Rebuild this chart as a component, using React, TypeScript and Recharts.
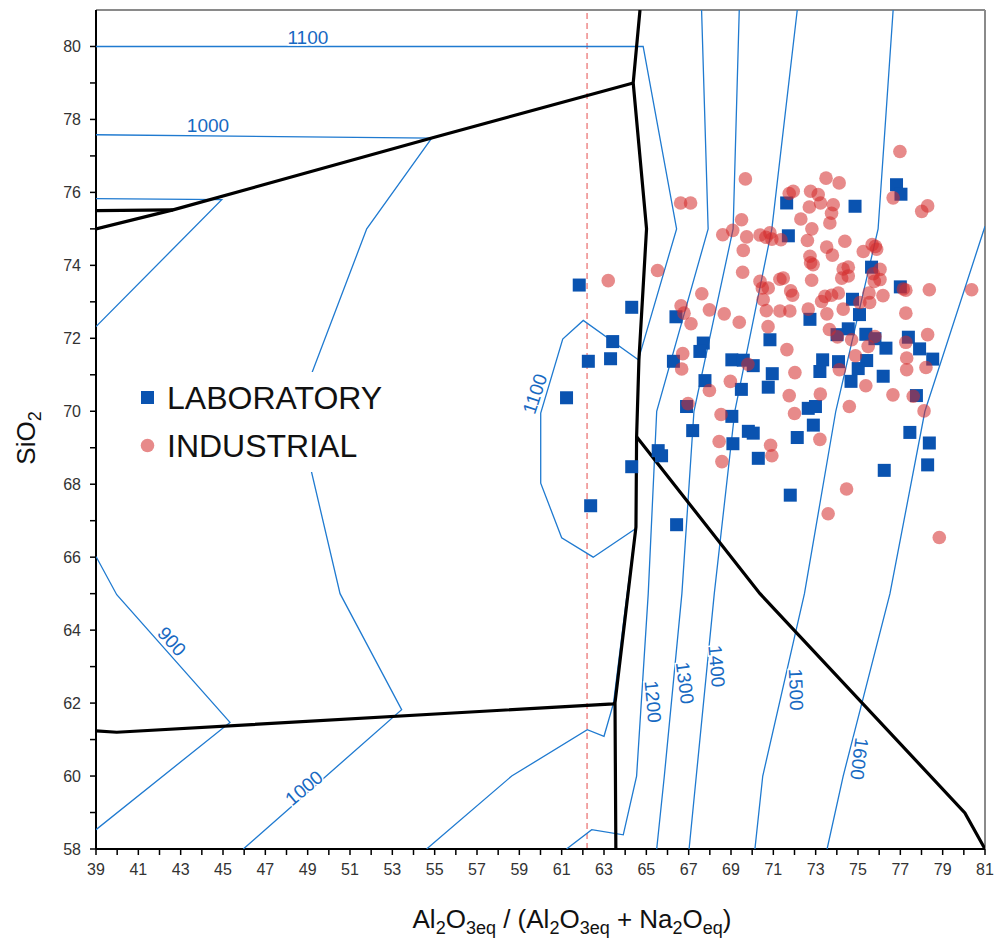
import React from "react";
import {
  ScatterChart,
  Scatter,
  XAxis,
  YAxis,
  ReferenceLine,
  ReferenceDot,
  Legend,
} from "recharts";

type Pt = [number, number];

const xTicks = [39, 40, 41, 42, 43, 44, 45, 46, 47, 48, 49, 50, 51, 52, 53, 54, 55, 56, 57, 58, 59, 60, 61, 62, 63, 64, 65, 66, 67, 68, 69, 70, 71, 72, 73, 74, 75, 76, 77, 78, 79, 80, 81];
const yTicks = [58, 59, 60, 61, 62, 63, 64, 65, 66, 67, 68, 69, 70, 71, 72, 73, 74, 75, 76, 77, 78, 79, 80];

// measured samples
const laboratory: Pt[] = [
  [61.83, 73.46], [64.31, 72.85], [63.41, 71.91], [63.31, 71.44], [62.26, 71.37], [61.23, 70.37],
  [66.4, 72.59], [66.28, 71.37], [64.31, 68.48], [62.37, 67.41], [65.56, 68.92], [65.72, 68.78],
  [66.43, 66.89], [67.69, 71.87], [67.53, 71.64], [67.77, 70.84], [66.9, 70.13], [67.19, 69.47],
  [69.04, 71.41], [69.58, 71.4], [70.05, 71.25], [69.49, 70.6], [69.04, 69.86], [69.09, 69.11],
  [69.82, 69.45], [70.05, 69.4], [70.29, 68.71], [70.84, 71.96], [70.95, 71.03], [70.76, 70.66],
  [71.63, 75.71], [71.71, 74.81], [72.73, 72.52], [73.33, 71.41], [73.2, 71.09], [72.65, 70.08],
  [72.99, 70.13], [72.89, 69.62], [72.13, 69.28], [71.8, 67.7], [74.08, 71.36], [74.67, 70.82],
  [74.54, 72.26], [74.74, 73.07], [75.07, 72.65], [75.37, 72.11], [75.8, 71.99], [75.41, 71.39],
  [75.01, 71.17], [75.64, 73.95], [76.32, 71.73], [76.19, 70.96], [74.86, 75.62], [76.82, 76.21],
  [77.03, 75.95], [77.0, 73.41], [77.38, 72.03], [77.91, 71.71], [78.53, 71.43], [77.76, 70.43],
  [77.45, 69.42], [78.37, 69.13], [78.29, 68.53], [76.24, 68.38], [74.01, 72.1],
];

const industrial: Pt[] = [
  [76.98, 77.12], [69.68, 76.37], [73.49, 76.39], [74.11, 76.26], [71.75, 75.97], [71.94, 76.03],
  [72.76, 76.03], [73.12, 75.94], [76.66, 75.85], [78.29, 75.63], [78.01, 75.48], [66.62, 75.71],
  [67.09, 75.71], [72.7, 75.6], [73.23, 75.71], [73.83, 75.66], [73.75, 75.43], [72.3, 75.27],
  [69.5, 75.25], [73.67, 75.16], [72.82, 75.0], [68.61, 74.84], [69.08, 74.96], [69.74, 74.78],
  [70.37, 74.83], [70.65, 74.77], [70.93, 74.72], [70.84, 74.89], [71.36, 74.7], [72.61, 74.68],
  [74.38, 74.66], [69.58, 74.41], [73.52, 74.5], [75.25, 74.38], [75.82, 74.52], [75.88, 74.44],
  [75.67, 74.57], [73.79, 74.28], [72.73, 74.25], [72.88, 74.02], [72.76, 74.07], [69.55, 73.81],
  [65.53, 73.86], [63.2, 73.58], [74.54, 73.95], [74.3, 73.9], [76.04, 73.89], [75.72, 73.77],
  [74.23, 73.65], [74.54, 73.71], [72.81, 73.59], [70.37, 73.56], [70.48, 73.38], [71.47, 73.65],
  [71.31, 73.62], [75.77, 73.56], [76.04, 73.61], [70.76, 73.38], [71.82, 73.3], [71.91, 73.18],
  [74.07, 73.24], [73.44, 73.15], [73.75, 73.18], [75.52, 73.24], [76.18, 73.17], [77.14, 73.35],
  [77.26, 73.32], [78.37, 73.33], [80.37, 73.33], [67.62, 73.22], [70.52, 73.06], [73.28, 73.01],
  [75.09, 72.98], [75.55, 72.98], [66.64, 72.89], [66.78, 72.69], [67.98, 72.78], [70.67, 72.76],
  [71.31, 72.75], [71.78, 72.75], [72.65, 72.8], [74.3, 72.8], [73.53, 72.67], [77.26, 72.69],
  [67.11, 72.4], [68.68, 72.67], [69.39, 72.44], [70.75, 72.32], [73.65, 72.24], [74.03, 72.04],
  [74.7, 71.96], [75.8, 72.05], [77.26, 71.89], [78.29, 72.1], [71.64, 71.69], [75.48, 71.78],
  [74.88, 71.52], [77.3, 71.46], [66.72, 71.58], [66.67, 71.16], [69.8, 71.29], [72.02, 71.06],
  [74.12, 71.14], [77.3, 71.14], [78.21, 71.2], [67.98, 70.57], [68.97, 70.82], [75.37, 70.7],
  [71.75, 70.43], [73.22, 70.47], [76.65, 70.45], [77.61, 70.41], [78.12, 70.01], [66.97, 70.21],
  [68.53, 69.91], [72.0, 69.94], [74.59, 70.13], [68.44, 69.17], [68.57, 68.62], [70.87, 69.07],
  [70.93, 68.78], [73.2, 69.23], [74.46, 67.87], [73.59, 67.19], [78.84, 66.54],
];

// isotherms (deg C)
const iso900: Pt[] = [[39, 66.02], [39.98, 64.97], [45.33, 61.47], [39, 58.53]];
const iso1000Top: Pt[] = [[39, 77.58], [54.86, 77.49], [51.79, 75.0], [48.51, 70.0], [50.53, 65.0], [53.44, 61.82], [45.96, 58]];
const iso1000Left: Pt[] = [[39, 75.83], [44.94, 75.8], [39, 72.32]];
const iso1100Top: Pt[] = [[39, 80], [64.85, 80], [66.43, 75.0], [64.62, 71.41]];
const iso1100Loop: Pt[] = [[64.62, 71.41], [62.02, 72.49], [61.05, 71.98], [60.01, 69.95], [60.01, 68.03], [61.0, 66.53], [62.49, 66.0], [64.54, 66.8]];
const iso1100Low: Pt[] = [[54.62, 58], [58.64, 60.0], [62.21, 61.27], [63.0, 61.09], [63.45, 62.0], [64.05, 64.8], [64.5, 66.8]];
const iso1200: Pt[] = [[67.61, 81], [67.92, 75.0], [65.49, 70.0], [65.09, 65.0], [64.54, 60.0], [63.91, 58.39], [62.42, 58.53], [61.23, 58]];
const iso1300: Pt[] = [[69.39, 81], [69.1, 75.0], [67.25, 70.0], [66.68, 65.0], [65.85, 60.0], [65.49, 58]];
const iso1400: Pt[] = [[72.13, 81], [70.93, 75.0], [69.18, 70.0], [68.21, 65.0], [67.36, 60.0], [67.02, 58]];
const iso1500: Pt[] = [[76.66, 81], [75.95, 75.0], [73.95, 70.0], [72.47, 65.0], [70.5, 60.0], [70.13, 58]];
const iso1600: Pt[] = [[81, 75.07], [78.16, 70.0], [76.51, 65.0], [74.3, 60.0], [73.54, 58]];

// phase boundaries
const fieldMain: Pt[] = [[64.7, 81], [64.38, 79.0], [65.01, 75.0], [64.65, 71.41], [64.54, 69.3], [64.51, 66.83], [63.52, 62.01], [63.56, 58]];
const fieldUpper: Pt[] = [[39, 75.0], [42.64, 75.52], [54.86, 77.49], [64.38, 79.0]];
const fieldUpperStub: Pt[] = [[39, 75.5], [42.64, 75.52]];
const fieldLower: Pt[] = [[39, 61.24], [39.98, 61.2], [63.44, 61.98], [63.52, 62.01]];
const fieldDiag: Pt[] = [[64.54, 69.3], [70.37, 65.0], [80.05, 58.99], [81, 58]];

const limitX = 62.2;

const isoLabels = ["1100", "1000", "900", "1000", "1100", "1200", "1300", "1400", "1500", "1600"];
const isoLabelX = [49.01, 44.29, 42.58, 48.83, 59.74, 65.31, 66.82, 68.32, 72.07, 75.06];
const isoLabelY = [80.25, 77.84, 63.69, 59.67, 70.48, 62.04, 62.55, 63.01, 62.37, 60.47];
const isoLabelAngle = [0, 0, 48, -40, -72, 85, 83, 85, 88, 97];

const rows = (pts: Pt[]) => pts.map(([x, y]) => ({ x, y }));

const BLUE_LINE = "#1f7ad0";
const BLUE_TEXT = "#1769c2";
const LAB = "#0a53b0";
const IND = "#d42a2a";

const Nothing = () => <g />;

const SquareMark = (p: any) => (
  <rect x={p.cx - 6.5} y={p.cy - 6.5} width={13} height={13} fill={LAB} />
);

const DotMark = (p: any) => (
  <circle cx={p.cx} cy={p.cy} r={6.8} fill={IND} fillOpacity={0.55} />
);

const isoLines = [iso900, iso1000Top, iso1000Left, iso1100Top, iso1100Loop, iso1100Low, iso1200, iso1300, iso1400, iso1500, iso1600];
const fieldLines = [fieldMain, fieldUpper, fieldUpperStub, fieldLower, fieldDiag];

const LegendBox = () => (
  <svg width={275} height={100} style={{ display: "block" }}>
    <rect x={8} y={19} width={13} height={13} fill={LAB} />
    <text x={34} y={36.5} fontSize={32} fill="#111">LABORATORY</text>
    <circle cx={14.5} cy={73.5} r={6.8} fill={IND} fillOpacity={0.55} />
    <text x={34} y={84.5} fontSize={32} fill="#111">INDUSTRIAL</text>
  </svg>
);

const XTitle = () => (
  <text x={572} y={928} textAnchor="middle" fontSize={26} fill="#111">
    Al<tspan fontSize={18} dy={6}>2</tspan>
    <tspan dy={-6}>O</tspan>
    <tspan fontSize={18} dy={6}>3eq</tspan>
    <tspan dy={-6}> / (Al</tspan>
    <tspan fontSize={18} dy={6}>2</tspan>
    <tspan dy={-6}>O</tspan>
    <tspan fontSize={18} dy={6}>3eq</tspan>
    <tspan dy={-6}> + Na</tspan>
    <tspan fontSize={18} dy={6}>2</tspan>
    <tspan dy={-6}>O</tspan>
    <tspan fontSize={18} dy={6}>eq</tspan>
    <tspan dy={-6}>)</tspan>
  </text>
);

const YTitle = () => (
  <text x={35} y={438} transform="rotate(-90 35 438)" textAnchor="middle" fontSize={26} fill="#111">
    SiO<tspan fontSize={18} dy={6}>2</tspan>
  </text>
);

export default function App() {
  return (
    <div style={{ position: "absolute", left: 0, top: 0, background: "#fff" }}>
      <ScatterChart
        width={997}
        height={944}
        margin={{ top: 10, right: 12, bottom: 35, left: 0 }}
        style={{ fontFamily: "'Liberation Sans', Arial, sans-serif" }}
      >
        <XAxis
          type="number"
          dataKey="x"
          domain={[39, 81]}
          ticks={xTicks}
          interval={0}
          allowDataOverflow
          height={60}
          tickSize={6}
          tickMargin={9}
          axisLine={{ stroke: "#000", strokeWidth: 2 }}
          tickLine={{ stroke: "#000", strokeWidth: 1.5 }}
          tick={{ fill: "#333", fontSize: 16 }}
          tickFormatter={(v: number) => (v % 2 === 1 ? String(v) : "")}
          label={<XTitle />}
        />
        <YAxis
          type="number"
          dataKey="y"
          domain={[58, 81]}
          ticks={yTicks}
          interval={0}
          allowDataOverflow
          width={96}
          tickSize={6}
          tickMargin={9}
          axisLine={{ stroke: "#000", strokeWidth: 2 }}
          tickLine={{ stroke: "#000", strokeWidth: 1.5 }}
          tick={{ fill: "#333", fontSize: 16 }}
          tickFormatter={(v: number) => (v % 2 === 0 ? String(v) : "")}
          label={<YTitle />}
        />
        <ReferenceLine y={81} stroke="#8a8a8a" strokeWidth={2} />
        <ReferenceLine x={81} stroke="#8a8a8a" strokeWidth={2} />
        <ReferenceLine x={limitX} stroke="#ee8a8a" strokeWidth={1.5} strokeDasharray="6 4" />

        {isoLines.map((pts, i) => (
          <Scatter
            key={`iso${i}`}
            data={rows(pts)}
            line={{ stroke: BLUE_LINE, strokeWidth: 1.3 }}
            lineType="joint"
            shape={Nothing}
            legendType="none"
            isAnimationActive={false}
          />
        ))}
        {fieldLines.map((pts, i) => (
          <Scatter
            key={`field${i}`}
            data={rows(pts)}
            line={{ stroke: "#000", strokeWidth: 3.2 }}
            lineType="joint"
            shape={Nothing}
            legendType="none"
            isAnimationActive={false}
          />
        ))}

        <Scatter name="LABORATORY" data={rows(laboratory)} shape={SquareMark} isAnimationActive={false} />
        <Scatter name="INDUSTRIAL" data={rows(industrial)} shape={DotMark} isAnimationActive={false} />

        {isoLabels.map((t, i) => (
          <ReferenceDot
            key={`lab${i}`}
            x={isoLabelX[i]}
            y={isoLabelY[i]}
            r={0}
            ifOverflow="visible"
            shape={(p: any) => (
              <text
                x={p.cx}
                y={p.cy}
                transform={`rotate(${isoLabelAngle[i]} ${p.cx} ${p.cy})`}
                textAnchor="middle"
                dominantBaseline="central"
                fontSize={19}
                fill={BLUE_TEXT}
                stroke="#fff"
                strokeWidth={3}
                paintOrder="stroke"
              >
                {t}
              </text>
            )}
          />
        ))}

        <Legend
          layout="vertical"
          align="center"
          verticalAlign="middle"
          content={() => <LegendBox />}
          wrapperStyle={{ left: 133, top: 372, width: 275, height: 100, backgroundColor: "#fff" }}
        />
      </ScatterChart>
    </div>
  );
}
